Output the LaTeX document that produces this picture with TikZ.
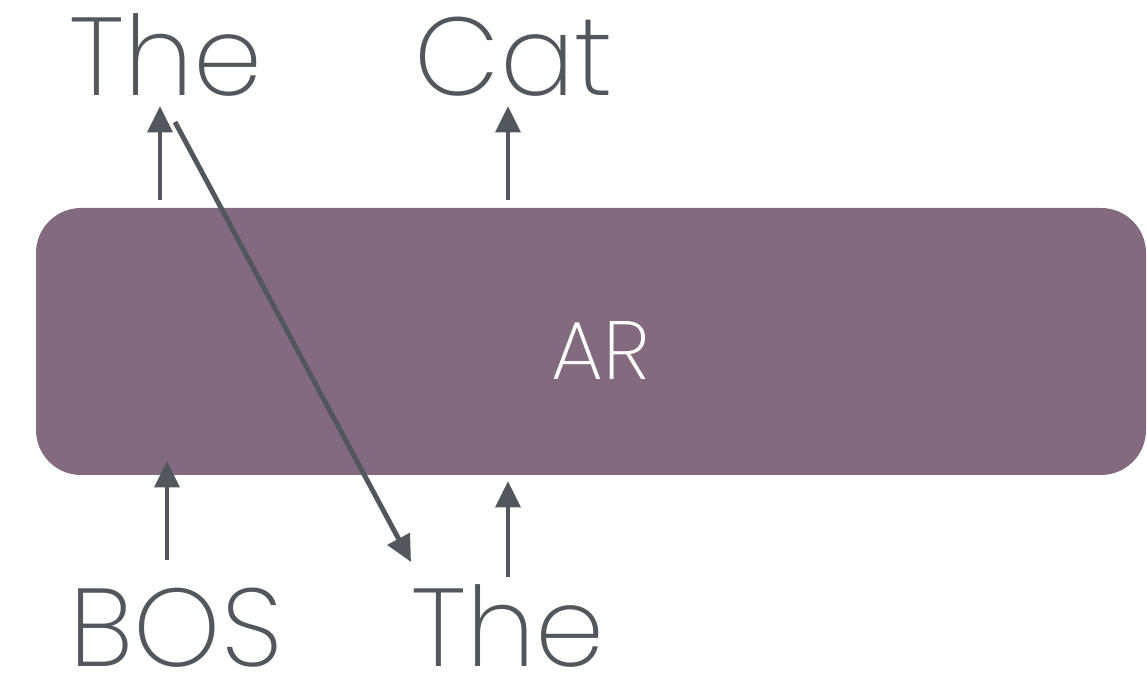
\documentclass[tikz,border=0pt]{standalone}
\usepackage{fontspec}
\setmainfont{Poppins ExtraLight}
\usetikzlibrary{arrows.meta}

\definecolor{boxpurple}{HTML}{846A7F}
\definecolor{inkgray}{HTML}{52575D}

\tikzset{
  token/.style={text=inkgray, font=\fontsize{63}{63}\selectfont, inner sep=0pt,
    text depth=0pt, anchor=base},
  arr/.style={draw=inkgray, line width=2.8pt, -{Triangle[length=15pt,width=14pt]}}
}

\begin{document}
\begin{tikzpicture}[x=0.02cm, y=-0.02cm]

% canvas
\useasboundingbox (0,0) rectangle (1147,675);

% model block
\node[fill=boxpurple, rounded corners=0.9cm, minimum width=1110*0.02cm,
      minimum height=267*0.02cm, inner sep=0pt] (ar) at (591,341.5) {};
\node[text=white, font=\fontsize{47}{47}\selectfont, inner sep=0pt, anchor=base]
  (arlabel) at (601,380) {AR};

% outputs
\node[token] (outThe) at (166,96) {The};
\node[token] (outCat) at (514,96) {Cat};

% inputs
\node[token] (inBos) at (176,666) {BOS};
\node[token] (inThe) at (508,666) {The};

% arrow ends
\coordinate (a1) at (160,200);
\coordinate (a1t) at (160,106);
\coordinate (a2) at (508,200);
\coordinate (a2t) at (508,106);
\coordinate (b1) at (167,560);
\coordinate (b1t) at (167,461);
\coordinate (b2) at (508,577);
\coordinate (b2t) at (508,481);
\coordinate (fb) at (175,122);
\coordinate (fbt) at (411,562);

\draw[arr] (a1) -- (a1t);
\draw[arr] (a2) -- (a2t);
\draw[arr] (b1) -- (b1t);
\draw[arr] (b2) -- (b2t);

% feed the sampled token back in
\draw[arr] (fb) -- (fbt);

\end{tikzpicture}
\end{document}
